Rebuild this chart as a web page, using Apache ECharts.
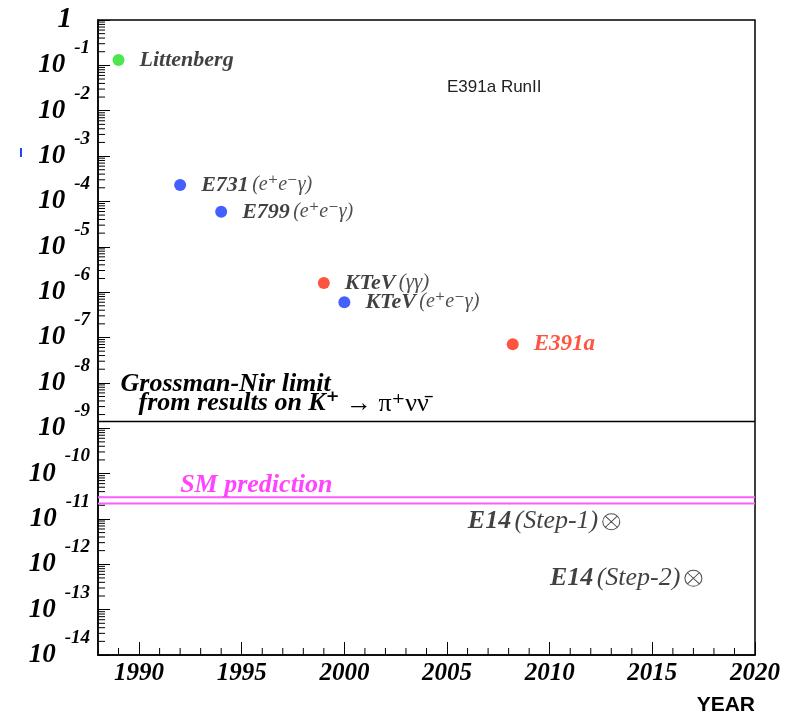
<!DOCTYPE html>
<html><head><meta charset="utf-8">
<script src="https://cdn.jsdelivr.net/npm/echarts@6/dist/echarts.min.js"></script>
<style>html,body{margin:0;padding:0;background:#fff}#c{width:797px;height:714px}</style>
</head><body><div id="c"></div>
<script>
// ---- data ----
const yearTicks = [1990, 1995, 2000, 2005, 2010, 2015, 2020];
const decadeTicks = [1, 1e-1, 1e-2, 1e-3, 1e-4, 1e-5, 1e-6, 1e-7, 1e-8, 1e-9, 1e-10, 1e-11, 1e-12, 1e-13, 1e-14];

const littenbergNames = ['Littenberg'];
const littenbergYears = [1989.0];
const littenbergLimits = [0.131];

const eegNames = ['E731', 'E799', 'KTeV'];
const eegYears = [1992.0, 1994.0, 2000.0];
const eegLimits = [2.3e-4, 5.9e-5, 6.0e-7];

const redNames = ['KTeV', 'E391a'];
const redModes = ['(γγ)', ''];
const redYears = [1999.0, 2008.2];
const redLimits = [1.6e-6, 7.1e-8];

const e14Names = ['E14', 'E14'];
const e14Steps = ['(Step-1)', '(Step-2)'];
const e14Years = [2013.0, 2017.0];
const e14Limits = [8.7e-12, 4.9e-13];

const grossmanNirLimit = 1.4e-9;
const smBand = [3.0e-11, 2.2e-11];

// ---- styling ----
const SERIF = '"Liberation Serif", "DejaVu Serif", serif';
const SANS = '"Liberation Sans", Arial, sans-serif';
const X_MIN = 1988, X_MAX = 2020, Y_MIN = 1e-14, Y_MAX = 1;

const zip = (a, b) => a.map((v, i) => [v, b[i]]);
const hLine = v => [[X_MIN, v], [X_MAX, v]];

// minor tick values (log-spaced) for the y axis and yearly for x axis
const tickData = [];
for (let n = -14; n < 0; n++) for (let k = 2; k <= 9; k++) tickData.push([X_MIN, k * Math.pow(10, n), 0]);
for (let y = X_MIN + 1; y < X_MAX; y++) if (y % 5 !== 0) tickData.push([y, Y_MIN, 1]);

const yLabelRich = {
  one: {fontFamily: SERIF, fontStyle: 'italic', fontWeight: 'bold', fontSize: 29, lineHeight: 29, padding: [12, 18, 12, 0], fill: '#000', color: '#000'},
  b: {fontFamily: SERIF, fontStyle: 'italic', fontWeight: 'bold', fontSize: 27, lineHeight: 27, padding: [13, 0, 13, 0], fill: '#000', color: '#000'},
  e: {fontFamily: SERIF, fontStyle: 'italic', fontWeight: 'bold', fontSize: 19, lineHeight: 19, padding: [0, 0, 34, 9], fill: '#000', color: '#000'}
};
const yLabelText = v => {
  const e = Math.round(Math.log10(v));
  return e === 0 ? '{one|1}' : '{b|10}{e|' + e + '}';
};

const chart = echarts.init(document.getElementById('c'), null, {renderer: 'canvas'});

const crossPath = 'path://M0,10A10,10,0,1,1,20,10A10,10,0,1,1,0,10ZM3,3L17,17M17,3L3,17';

const option = {
  animation: false,
  backgroundColor: '#fff',
  grid: {left: 98, right: 42, top: 20, bottom: 59, show: true, borderColor: '#000', borderWidth: 1.5, outerBoundsMode: 'none'},
  xAxis: {
    type: 'value', min: X_MIN, max: X_MAX,
    axisLine: {show: true, lineStyle: {color: '#000', width: 1.5}},
    axisTick: {show: true, inside: true, length: 13, lineStyle: {color: '#000', width: 1}, customValues: yearTicks},
    splitLine: {show: false},
    axisLabel: {customValues: yearTicks, margin: 6, color: '#000', fontFamily: SERIF, fontStyle: 'italic', fontWeight: 'bold', fontSize: 25,
      showMinLabel: true, showMaxLabel: true, formatter: v => String(v)},
    name: 'YEAR', nameLocation: 'end', nameGap: 0,
    nameTextStyle: {align: 'right', verticalAlign: 'top', padding: [40, 0, 0, 0], fontFamily: SANS, fontWeight: 'bold', fontSize: 21, color: '#000'}
  },
  yAxis: {
    type: 'log', logBase: 10, min: Y_MIN, max: Y_MAX,
    axisLine: {show: true, lineStyle: {color: '#000', width: 1.5}},
    axisTick: {show: true, inside: true, length: 12, lineStyle: {color: '#000', width: 1}, customValues: decadeTicks},
    splitLine: {show: false},
    axisLabel: {show: false}
  },
  graphic: [
    {type: 'rect', left: 20, top: 148, shape: {width: 2, height: 9}, style: {fill: '#2244ff'}}
  ],
  series: [
    {
      type: 'custom', name: 'ticks', clip: false, silent: true,
      encode: {x: 0, y: 1},
      data: tickData,
      renderItem: (params, api) => {
        const t = api.value(2);
        if (t === 0) {
          const p = api.coord([X_MIN, api.value(1)]);
          return {type: 'line', shape: {x1: p[0], y1: p[1], x2: p[0] + 7, y2: p[1]}, style: {stroke: '#000', lineWidth: 1}};
        }
        const p = api.coord([api.value(0), Y_MIN]);
        return {type: 'line', shape: {x1: p[0], y1: p[1], x2: p[0], y2: p[1] - 7}, style: {stroke: '#000', lineWidth: 1}};
      }
    },
    {
      type: 'custom', name: 'y labels', clip: false, silent: true,
      encode: {x: 0, y: 1},
      data: decadeTicks.map(v => [X_MIN, v]),
      renderItem: (params, api) => {
        const v = api.value(1);
        const p = api.coord([X_MIN, v]);
        return {type: 'text', x: p[0] - 8, y: p[1],
          style: {text: yLabelText(v), rich: yLabelRich, fill: '#000', align: 'right', verticalAlign: 'middle',
            textAlign: 'right', textVerticalAlign: 'middle'}};
      }
    },
    {
      type: 'line', name: 'Grossman-Nir limit', silent: true, symbol: 'none',
      lineStyle: {color: '#000', width: 1.5}, data: hLine(grossmanNirLimit),
      markPoint: {
        silent: true, symbol: 'circle', symbolSize: 0,
        data: [
          {coord: [1989.1, 5.6e-9], label: {show: true, position: 'right', distance: 0,
            formatter: '{a|Grossman-Nir limit}\n{b|from results on K⁺ }{c|→ π⁺νν̄}',
            rich: {
              a: {fontFamily: SERIF, fontStyle: 'italic', fontWeight: 'bold', fontSize: 26, lineHeight: 19, color: '#000'},
              b: {fontFamily: SERIF, fontStyle: 'italic', fontWeight: 'bold', fontSize: 26, lineHeight: 19, color: '#000', padding: [0, 0, 0, 18]},
              c: {fontFamily: SERIF, fontSize: 26, lineHeight: 19, color: '#000'}
            }}},
          {coord: [2007.3, 3.3e-2], label: {show: true, position: 'inside', formatter: 'E391a RunII',
            fontFamily: SANS, fontSize: 17, color: '#222'}}
        ]
      }
    },
    {
      type: 'line', name: 'SM upper', silent: true, symbol: 'none',
      lineStyle: {color: '#ff5cff', width: 2}, data: hLine(smBand[0]),
      markPoint: {
        silent: true, symbol: 'circle', symbolSize: 0,
        data: [
          {coord: [1992.0, 5.6e-11], label: {show: true, position: 'right', distance: 0, formatter: 'SM prediction',
            fontFamily: SERIF, fontStyle: 'italic', fontWeight: 'bold', fontSize: 26, color: '#ff44ff'}}
        ]
      }
    },
    {
      type: 'line', name: 'SM lower', silent: true, symbol: 'none',
      lineStyle: {color: '#ff5cff', width: 2}, data: hLine(smBand[1])
    },
    {
      type: 'scatter', name: 'Littenberg', symbolSize: 12,
      itemStyle: {color: '#22e022'},
      data: zip(littenbergYears, littenbergLimits),
      label: {show: true, position: 'right', distance: 15, color: '#111',
        formatter: p => littenbergNames[p.dataIndex],
        fontFamily: SERIF, fontStyle: 'italic', fontWeight: 'bold', fontSize: 22}
    },
    {
      type: 'scatter', name: 'e+e-γ', symbolSize: 12,
      itemStyle: {color: '#1438ff'},
      data: zip(eegYears, eegLimits),
      label: {show: true, position: 'right', distance: 15,
        formatter: p => '{b|' + eegNames[p.dataIndex] + '} {n|(e⁺e⁻γ)}',
        rich: {
          b: {fontFamily: SERIF, fontStyle: 'italic', fontWeight: 'bold', fontSize: 22, color: '#111'},
          n: {fontFamily: SERIF, fontStyle: 'italic', fontSize: 20, color: '#222'}
        }}
    },
    {
      type: 'scatter', name: 'red', symbolSize: 12,
      itemStyle: {color: '#ff2a10'},
      data: zip(redYears, redLimits),
      label: {show: true, position: 'right', distance: 15,
        formatter: p => redModes[p.dataIndex] ? ('{b|' + redNames[p.dataIndex] + '} {n|' + redModes[p.dataIndex] + '}') : ('{r|' + redNames[p.dataIndex] + '}'),
        rich: {
          b: {fontFamily: SERIF, fontStyle: 'italic', fontWeight: 'bold', fontSize: 22, color: '#111'},
          n: {fontFamily: SERIF, fontStyle: 'italic', fontSize: 21, color: '#222'},
          r: {fontFamily: SERIF, fontStyle: 'italic', fontWeight: 'bold', fontSize: 23, color: '#ff2a10'}
        }}
    },
    {
      type: 'scatter', name: 'E14', symbol: crossPath, symbolSize: [17, 16],
      itemStyle: {color: 'rgba(0,0,0,0)', borderColor: '#222', borderWidth: 1},
      data: zip(e14Years, e14Limits),
      label: {show: true, position: 'left', distance: 4,
        formatter: p => '{b|' + e14Names[p.dataIndex] + '} {n|' + e14Steps[p.dataIndex] + '}',
        rich: {
          b: {fontFamily: SERIF, fontStyle: 'italic', fontWeight: 'bold', fontSize: 26, color: '#111'},
          n: {fontFamily: SERIF, fontStyle: 'italic', fontSize: 26, color: '#111'}
        }}
    }
  ]
};
chart.setOption(option);
</script>
</body></html>
